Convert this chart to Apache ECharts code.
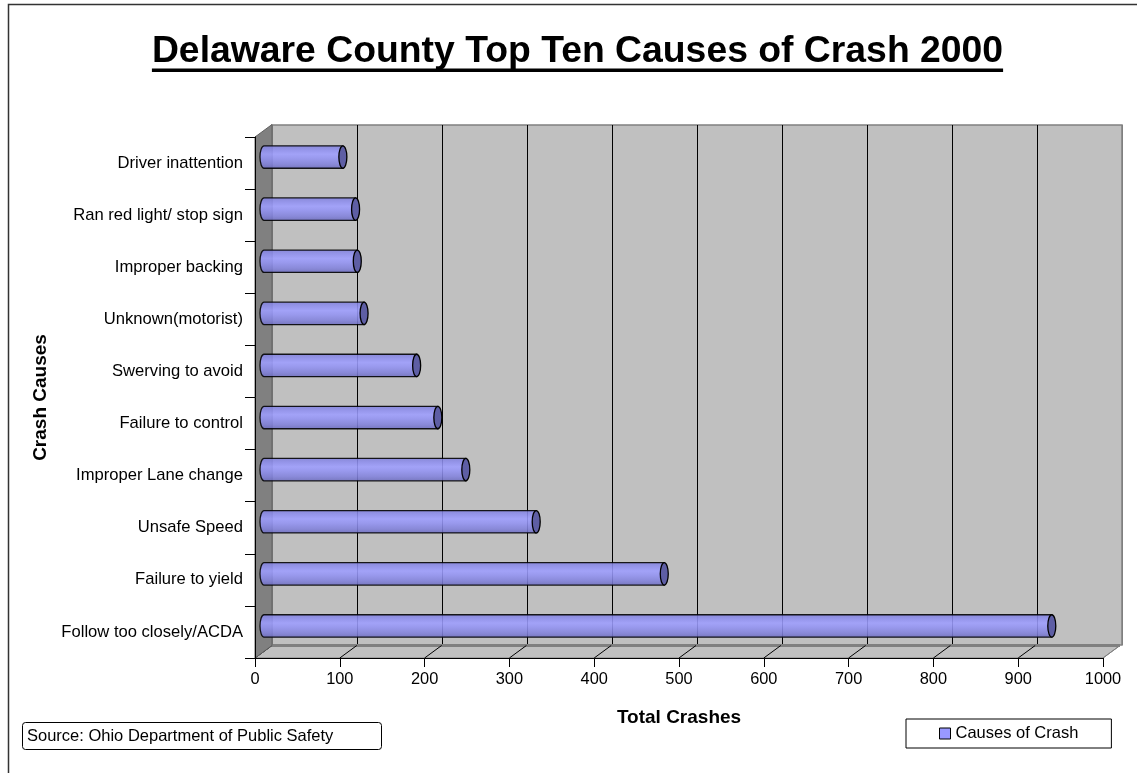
<!DOCTYPE html>
<html><head><meta charset="utf-8">
<script src="https://cdn.jsdelivr.net/npm/echarts@6/dist/echarts.min.js"></script>
<style>html,body{margin:0;padding:0;background:#fff}#c{width:1137px;height:773px}</style>
</head><body><div id="c"></div>
<script>
// ---------- data ----------
const titleText = 'Delaware County Top Ten Causes of Crash 2000';
const categories = [
  'Driver inattention',
  'Ran red light/ stop sign',
  'Improper backing',
  'Unknown(motorist)',
  'Swerving to avoid',
  'Failure to control',
  'Improper Lane change',
  'Unsafe Speed',
  'Failure to yield',
  'Follow too closely/ACDA'
];
const crashes = [93, 108, 110, 118, 180, 205, 238, 321, 472, 929];
const xTicks = [0, 100, 200, 300, 400, 500, 600, 700, 800, 900, 1000];
const seriesName = 'Causes of Crash';
const xAxisTitle = 'Total Crashes';
const yAxisTitle = 'Crash Causes';
const sourceText = 'Source: Ohio Department of Public Safety';

// ---------- style ----------
const FONT = '"Liberation Sans", Arial, Helvetica, sans-serif';
const DX = 17, DY = -12.5;
const X_MIN = xTicks[0], X_MAX = xTicks[xTicks.length - 1], X_STEP = xTicks[1] - xTicks[0];

const ctx = document.createElement('canvas').getContext('2d');
ctx.font = 'bold 37.35px "Liberation Sans"';
const titleW = ctx.measureText(titleText).width;
const titleCx = 577.5;

const chart = echarts.init(document.getElementById('c'), null, {renderer: 'canvas'});

const gridLineColors = xTicks.map((t, i) => (i === 0 || i === xTicks.length - 1) ? '#808080' : '#000000');

const option = {
  backgroundColor: '#ffffff',
  animation: false,
  title: [{
    text: sourceText,
    left: 22, top: 722,
    padding: [5, 48, 5, 5],
    borderColor: '#000', borderWidth: 1, borderRadius: 3,
    textStyle: {fontSize: 16.5, lineHeight: 18, fontWeight: 'normal', fontFamily: FONT, color: '#000'}
  }],
  legend: {
    left: 906, top: 719,
    padding: [6, 33, 6, 33],
    borderColor: '#000', borderWidth: 1,
    itemWidth: 11, itemHeight: 11,
    textStyle: {fontSize: 16.5, fontFamily: FONT, color: '#000'},
    data: [{name: seriesName, icon: 'rect', itemStyle: {color: '#9999FF', borderColor: '#000', borderWidth: 1}}]
  },
  graphic: [
    {type: 'rect', silent: true, z: -10, shape: {x: 8.5, y: 4.5, width: 1300, height: 1000},
     style: {fill: null, stroke: '#333', lineWidth: 1.5}},
    {type: 'text', x: titleCx, y: 52, style: {text: titleText, font: 'bold 37.35px ' + FONT, fill: '#000', align: 'center', verticalAlign: 'middle'}},
    {type: 'rect', shape: {x: titleCx - titleW / 2, y: 68.5, width: titleW, height: 3.5}, style: {fill: '#000'}}
  ],
  grid: [
    {left: 255, width: 848, top: 137, height: 521, outerBoundsMode: 'none'},
    {left: 264, width: 848, top: 131, height: 521, outerBoundsMode: 'none'},
    {left: 272, width: 850, top: 125, height: 520, outerBoundsMode: 'none', show: true,
     backgroundColor: '#C0C0C0', borderColor: '#808080', borderWidth: 1.5}
  ],
  xAxis: [
    {gridIndex: 0, type: 'value', min: X_MIN, max: X_MAX, interval: X_STEP, z: 5,
     axisLine: {show: true, lineStyle: {color: '#000', width: 1}},
     axisTick: {show: true, length: 9, lineStyle: {color: '#000'}},
     axisLabel: {margin: 13, fontSize: 16.4, color: '#000', fontFamily: FONT,
                 formatter: function (v) { return String(v); }},
     splitLine: {show: false},
     name: xAxisTitle, nameLocation: 'middle', nameGap: 50,
     nameTextStyle: {fontWeight: 'bold', fontSize: 19, fontFamily: FONT, color: '#000'}},
    {gridIndex: 1, type: 'value', min: X_MIN, max: X_MAX, show: false},
    {gridIndex: 2, type: 'value', min: X_MIN, max: X_MAX, interval: X_STEP,
     axisLine: {show: false}, axisTick: {show: false}, axisLabel: {show: false},
     splitLine: {show: true, lineStyle: {color: gridLineColors, width: 1}}}
  ],
  yAxis: [
    {gridIndex: 0, type: 'category', data: categories, inverse: true, z: 5,
     axisLine: {show: true, lineStyle: {color: '#000', width: 1}},
     axisTick: {show: true, length: 10, lineStyle: {color: '#000'}},
     axisLabel: {margin: 12, fontSize: 16.6, color: '#000', fontFamily: FONT, interval: 0},
     name: yAxisTitle, nameLocation: 'middle', nameRotate: 90, nameGap: 200,
     nameTextStyle: {fontWeight: 'bold', fontSize: 19, fontFamily: FONT, color: '#000'}},
    {gridIndex: 1, type: 'category', data: categories, inverse: true, show: false},
    {gridIndex: 2, type: 'category', data: categories, inverse: true, show: false}
  ],
  series: [
    {
      type: 'custom', name: '_walls', xAxisIndex: 0, yAxisIndex: 0, z: 1, silent: true,
      data: [[0, 0]],
      renderItem: function (params, api) {
        const cs = params.coordSys;
        const x = cs.x, y = cs.y, w = cs.width, h = cs.height;
        const ch = [];
        ch.push({type: 'polygon', shape: {points: [[x, y + h], [x + DX, y + h + DY], [x + w + DX, y + h + DY], [x + w, y + h]]},
                 style: {fill: '#C0C0C0', stroke: '#808080', lineWidth: 1}});
        ch.push({type: 'line', shape: {x1: x + DX, y1: y + h + DY, x2: x + w + DX, y2: y + h + DY},
                 style: {stroke: '#808080', lineWidth: 3}});
        xTicks.forEach(function (t, i) {
          const px = api.coord([t, 0])[0];
          ch.push({type: 'line', shape: {x1: px, y1: y + h, x2: px + DX, y2: y + h + DY},
                   style: {stroke: i === xTicks.length - 1 ? '#808080' : '#000', lineWidth: 1}});
        });
        ch.push({type: 'polygon', shape: {points: [[x, y], [x + DX, y + DY], [x + DX, y + h + DY], [x, y + h]]},
                 style: {fill: '#808080', stroke: '#606060', lineWidth: 1}});
        return {type: 'group', children: ch};
      }
    },
    {
      type: 'custom', name: seriesName, xAxisIndex: 1, yAxisIndex: 1, z: 3,
      itemStyle: {color: '#9999FF'},
      data: crashes.map(function (v, i) { return [v, i]; }),
      encode: {x: 0, y: 1},
      renderItem: function (params, api) {
        const v = api.value(0), idx = api.value(1);
        const s = api.coord([0, idx]), e = api.coord([v, idx]);
        const band = api.size([0, 1])[1];
        const hh = band * 0.215, rx = 4;
        const cy = s[1], x0 = s[0], x1 = e[0];
        const body = 'M ' + x0 + ' ' + (cy - hh) + ' L ' + x1 + ' ' + (cy - hh) + ' L ' + x1 + ' ' + (cy + hh) +
          ' L ' + x0 + ' ' + (cy + hh) + ' A ' + rx + ' ' + hh + ' 0 0 1 ' + x0 + ' ' + (cy - hh) + ' Z';
        const cap = 'M ' + (x1 - rx) + ' ' + cy + ' A ' + rx + ' ' + hh + ' 0 1 1 ' + (x1 + rx) + ' ' + cy +
          ' A ' + rx + ' ' + hh + ' 0 1 1 ' + (x1 - rx) + ' ' + cy + ' Z';
        const grad = new echarts.graphic.LinearGradient(0, 0, 0, 1, [
          {offset: 0, color: '#8080DA'},
          {offset: 0.2, color: '#9090F0'},
          {offset: 0.38, color: '#9E9EFF'},
          {offset: 0.55, color: '#9494F4'},
          {offset: 0.8, color: '#8282DC'},
          {offset: 1, color: '#6C6CBC'}
        ]);
        return {type: 'group', children: [
          {type: 'path', shape: {pathData: body}, style: {fill: grad, stroke: '#000', lineWidth: 1.3, opacity: 0.88}},
          {type: 'path', shape: {pathData: cap}, style: {fill: '#5E5EA4', stroke: '#000', lineWidth: 1.3}}
        ]};
      }
    }
  ]
};
chart.setOption(option);
</script>
</body></html>
